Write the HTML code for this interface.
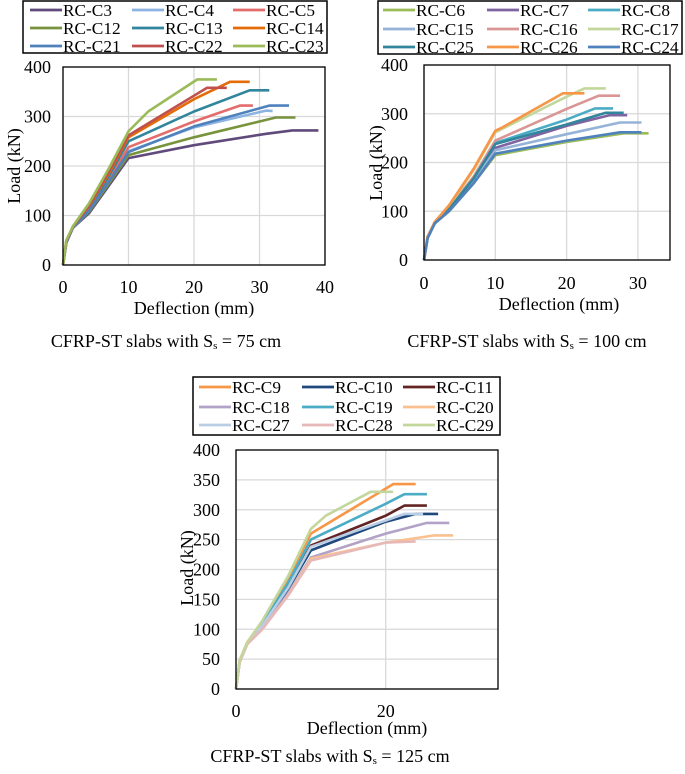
<!DOCTYPE html>
<html><head><meta charset="utf-8"><style>
body{margin:0;background:#fff;}
svg text{font-family:"Liberation Serif","Times New Roman",serif;fill:#000;}
</style></head><body>
<svg id="s" width="685" height="769" xmlns="http://www.w3.org/2000/svg" font-family="Liberation Serif, Times New Roman, serif"></svg>
<script>
// ---- Chart 1 data (Ss = 75 cm)
const c1Names = ["RC-C3","RC-C4","RC-C5","RC-C12","RC-C13","RC-C14","RC-C21","RC-C22","RC-C23"];
const c1Colors = ["#604a7b","#8db3e2","#e46c6c","#77933c","#31859c","#e36c09","#4f81bd","#c0504d","#9bbb59"];
const c1X = [
 [0,0.5,1.5,4,7,10,20,31,35,39],
 [0,0.5,1.5,4,7,10,20,31,32],
 [0,0.5,1.5,4,7,10,20,27,29],
 [0,0.5,1.5,4,7,10,20,32.5,35.5],
 [0,0.5,1.5,4,7,10,20,28.5,31.5],
 [0,0.5,1.5,4,7,10,20,25.5,28.5],
 [0,0.5,1.5,4,7,10,20,31.5,34.5],
 [0,0.5,1.5,4,7,10,20,22,25],
 [0,0.5,1.5,4,7,10,13,20.5,23.5]];
const c1Y = [
 [0,45,75,105,160,216,242,265,272,272],
 [0,45,75,110,168,230,278,312,311],
 [0,45,75,112,172,238,290,322,322],
 [0,45,75,108,164,222,258,298,298],
 [0,47,76,115,180,250,310,353,353],
 [0,48,77,118,185,258,335,370,370],
 [0,45,75,110,168,228,280,322,322],
 [0,48,77,120,188,262,342,358,358],
 [0,50,78,125,195,270,310,375,375]];
// ---- Chart 2 data (Ss = 100 cm)
const c2Names = ["RC-C6","RC-C7","RC-C8","RC-C15","RC-C16","RC-C17","RC-C25","RC-C26","RC-C24"];
const c2Colors = ["#9bbb59","#8064a2","#4bacc6","#95b3d7","#d99694","#c3d69b","#31859c","#f79646","#4f81bd"];
const c2X = [
 [0,0.5,1.5,3.5,7,10,20,28,31.5],
 [0,0.5,1.5,3.5,7,10,20,26,28.5],
 [0,0.5,1.5,3.5,7,10,20,24,26.5],
 [0,0.5,1.5,3.5,7,10,20,27.5,30.5],
 [0,0.5,1.5,3.5,7,10,20,24.5,27.5],
 [0,0.5,1.5,3.5,7,10,20,22.5,25.5],
 [0,0.5,1.5,3.5,7,10,20,25.5,28],
 [0,0.5,1.5,3.5,7,10,11,19.5,22.5],
 [0,0.5,1.5,3.5,7,10,20,27.5,30.5]];
const c2Y = [
 [0,45,75,100,158,215,242,260,260],
 [0,45,75,102,165,230,275,297,297],
 [0,46,76,105,170,240,288,311,311],
 [0,45,75,101,162,225,258,282,282],
 [0,46,76,106,172,245,310,337,337],
 [0,48,78,110,185,262,335,352,352],
 [0,46,76,104,168,238,278,302,302],
 [0,48,78,112,188,265,272,342,342],
 [0,45,75,100,158,218,245,262,262]];
// ---- Chart 3 data (Ss = 125 cm)
const c3Names = ["RC-C9","RC-C10","RC-C11","RC-C18","RC-C19","RC-C20","RC-C27","RC-C28","RC-C29"];
const c3Colors = ["#f79646","#1f497d","#632523","#b3a2c7","#4bacc6","#fac090","#b9cde5","#e6b9b8","#c3d69b"];
const c3X = [
 [0,0.5,1.5,3.5,7,10,21,24],
 [0,0.5,1.5,3.5,7,10,20,24,27],
 [0,0.5,1.5,3.5,7,10,20,22.5,25.5],
 [0,0.5,1.5,3.5,7,10,20,25.5,28.5],
 [0,0.5,1.5,3.5,7,10,20,22.5,25.5],
 [0,0.5,1.5,3.5,7,10,20,26.5,29],
 [0,0.5,1.5,3.5,7,10,20,22.5,25],
 [0,0.5,1.5,3.5,7,10,20,24],
 [0,0.5,1.5,3.5,7,10,12,18,21]];
const c3Y = [
 [0,48,78,112,185,260,343,343],
 [0,46,76,105,168,232,280,293,293],
 [0,46,76,106,172,240,290,307,307],
 [0,45,75,102,160,220,260,278,278],
 [0,47,77,108,178,250,310,326,326],
 [0,45,75,100,158,218,245,257,257],
 [0,46,76,106,170,238,282,293,293],
 [0,45,75,100,157,215,245,247],
 [0,48,78,114,190,268,290,330,330]];
const c1YTicks=[0,100,200,300,400], c1XTicks=[0,10,20,30,40];
const c2YTicks=[0,100,200,300,400], c2XTicks=[0,10,20,30];
const c3YTicks=[0,50,100,150,200,250,300,350,400], c3XTicks=[0,20];

const NS="http://www.w3.org/2000/svg";
const svg=document.getElementById('s');
const FF="Liberation Serif, Times New Roman, serif";
function mk(tag,attrs,parent){const e=document.createElementNS(NS,tag);for(const k in attrs)e.setAttribute(k,attrs[k]);if(tag==='text')e.setAttribute('font-family',FF);(parent||svg).appendChild(e);return e;}

function chart(o){
 const g=mk('g',{});
 
 
 const sx=v=>o.L+(v-0)/o.xMax*(o.R-o.L);
 const sy=v=>o.B-v/400*(o.B-o.T);
 o.yT.forEach(t=>{const l=mk('line',{x1:o.L,x2:o.R,y1:sy(t),y2:sy(t),stroke:'#d9d9d9','stroke-width':1.3},g);
  
  
  const tx=mk('text',{x:o.yLabX,y:sy(t)+6,'text-anchor':'end','font-size':18},g);tx.textContent=t;
  
  });
 o.xT.forEach(t=>{const l=mk('line',{y1:o.T,y2:o.B,x1:sx(t),x2:sx(t),stroke:'#d9d9d9','stroke-width':1.3},g);
  
  
  const tx=mk('text',{x:sx(t),y:o.xLabY,'text-anchor':'middle','font-size':18},g);tx.textContent=t;
  
  });
 o.names.forEach((n,i)=>{
  const pts=o.X[i].map((x,j)=>sx(x).toFixed(1)+','+sy(o.Y[i][j]).toFixed(1)).join(' ');
  const p=mk('polyline',{points:pts,fill:'none',stroke:o.colors[i],'stroke-width':2.6,'stroke-linejoin':'round'},g);
  
  
 });
 const fr=mk('rect',{x:o.L,y:o.T,width:o.R-o.L,height:o.B-o.T,fill:'none',stroke:'#000','stroke-width':1.3},g);
 
 
 const xt=mk('text',{x:o.xTitleX,y:o.xTitleY,'text-anchor':'middle','font-size':18},g);xt.textContent='Deflection (mm)';
 
 
 const yt=mk('text',{x:0,y:0,'text-anchor':'middle','font-size':18,transform:`translate(${o.yTitleX},${o.yTitleY}) rotate(-90)`},g);yt.textContent='Load (kN)';
 
 
 const lg=mk('g',{},g);
 
 
 mk('rect',{x:o.lg.x,y:o.lg.y,width:o.lg.w,height:o.lg.h,fill:'#fff',stroke:'#000','stroke-width':1.5},lg);
 o.names.forEach((n,i)=>{
  const c=i%3,r=Math.floor(i/3);
  const lx=o.lg.cols[c], ly=o.lg.rows[r];
  const e=mk('g',{},lg);
  
  
  mk('line',{x1:lx,x2:lx+32,y1:ly,y2:ly,stroke:o.colors[i],'stroke-width':2.8},e);
  const t=mk('text',{x:lx+33,y:ly+6,'font-size':17.3},e);t.textContent=n;
 });
 if(o.cap){const c=mk('text',{x:o.cap.x,y:o.cap.y,'text-anchor':'middle','font-size':18},g);
  
  
  c.innerHTML='CFRP-ST slabs with S<tspan font-size="11" dy="2">s</tspan><tspan dy="-2"> = '+o.cap.t+' cm</tspan>';}
}
chart({id:'chart-75cm',L:63,R:325,T:67,B:265,xMax:40,yT:c1YTicks,xT:c1XTicks,yLabX:51,xLabY:293,
 names:c1Names,colors:c1Colors,X:c1X,Y:c1Y,xTitleX:194,xTitleY:314,yTitleX:20,yTitleY:166,
 lg:{x:23,y:1,w:304,h:52,cols:[30,132,233],rows:[10,28,46]},cap:{x:166,y:347,t:'75'}});
chart({id:'chart-100cm',L:424,R:670,T:65,B:260,xMax:34.5,yT:c2YTicks,xT:c2XTicks,yLabX:408,xLabY:289,
 names:c2Names,colors:c2Colors,X:c2X,Y:c2Y,xTitleX:559,xTitleY:310,yTitleX:382,yTitleY:163,
 lg:{x:378,y:1,w:304,h:53,cols:[383,487,588],rows:[10,29,47]},cap:{x:527,y:347,t:'100'}});
chart({id:'chart-125cm',L:236,R:498,T:450,B:689,xMax:35,yT:c3YTicks,xT:c3XTicks,yLabX:220,xLabY:717,
 names:c3Names,colors:c3Colors,X:c3X,Y:c3Y,xTitleX:367,xTitleY:734,yTitleX:193,yTitleY:568,
 lg:{x:193,y:377,w:307,h:58,cols:[199,302,403],rows:[387,407,425]},cap:{x:330,y:762,t:'125'}});
</script>
</body></html>
